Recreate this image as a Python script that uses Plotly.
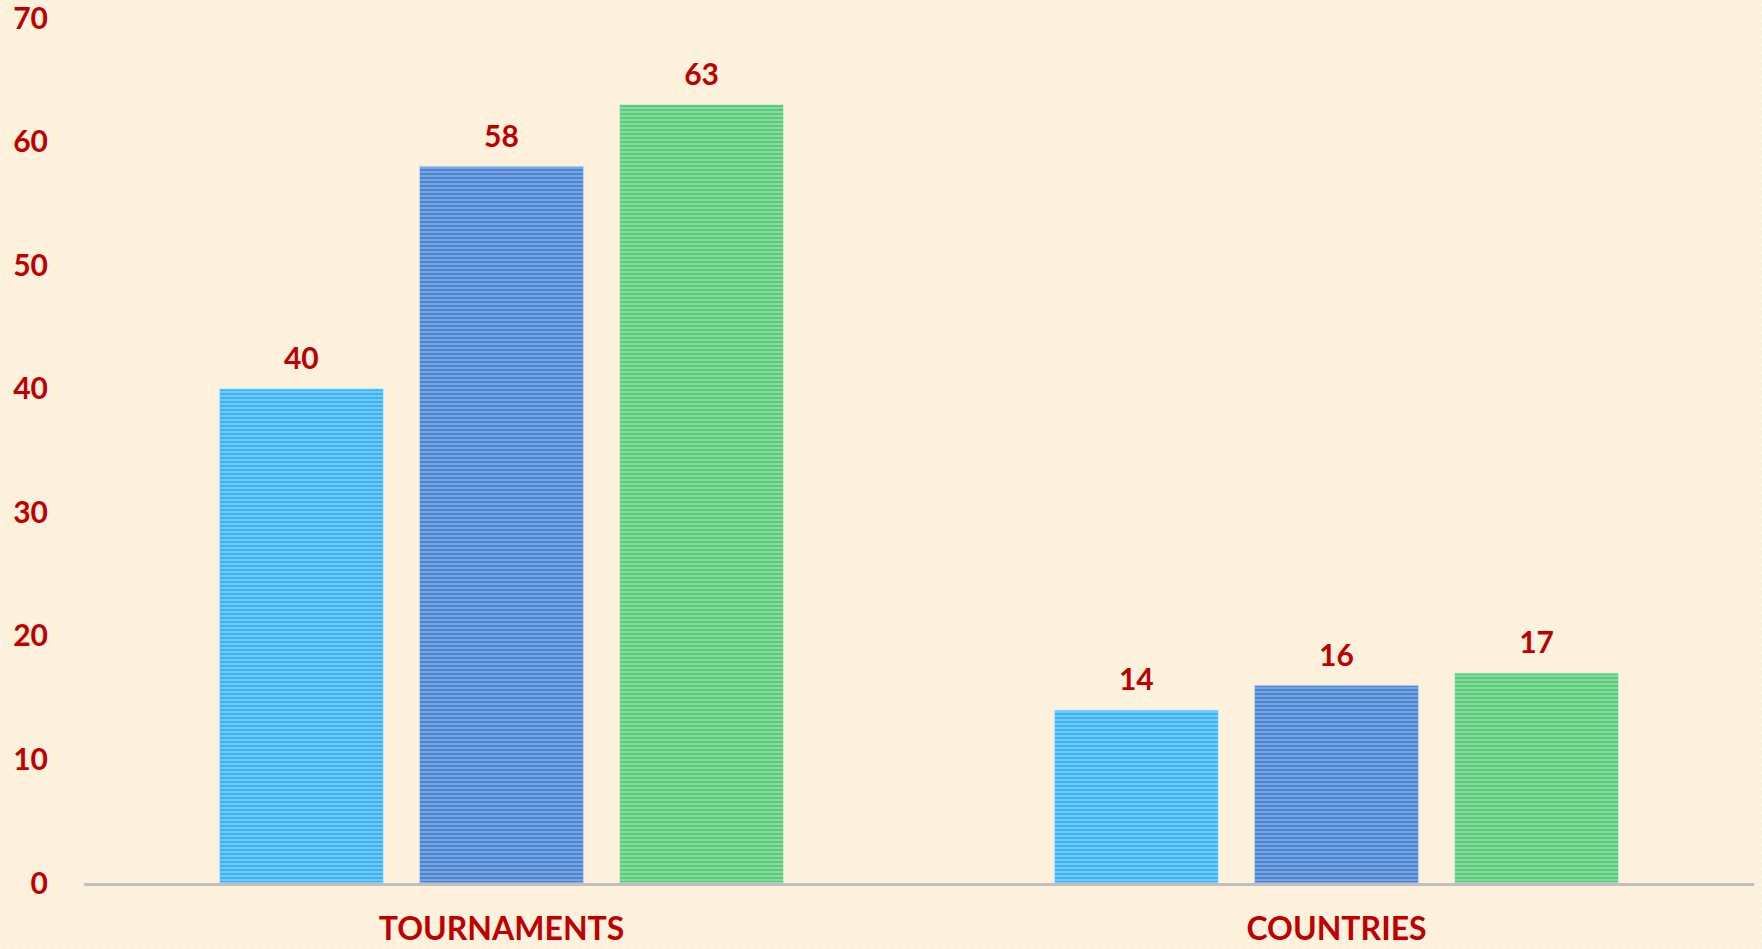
import plotly.graph_objects as go
import urllib.parse

categories = ["TOURNAMENTS", "COUNTRIES"]
series_names = ["Series 1", "Series 2", "Series 3"]
series_values = [
    [40, 14],
    [58, 16],
    [63, 17],
]
y_ticks = [0, 10, 20, 30, 40, 50, 60, 70]

bar_colors = ["#3db3f7", "#4a84d2", "#5acb78"]
stripe_colors = ["#c4ebff", "#c4d8f2", "#cdf2d8"]
text_red = "#c00000"
bg = "#fdf1dc"
font_family = "Lato, 'Open Sans', sans-serif"

W, H = 1762, 949
ML, MR, MT, MB = 84, 8, 18, 66

fig = go.Figure()
for i, (name, vals, c, s) in enumerate(zip(series_names, series_values, bar_colors, stripe_colors)):
    fig.add_trace(go.Bar(
        x=categories, y=vals, name=name,
        offsetgroup=str(i),
        marker=dict(
            color=c,
            line=dict(color=s, width=1),
            pattern=dict(shape="-", bgcolor=c, fgcolor=s, size=4, solidity=0.4, fillmode="overlay"),
        ),
        showlegend=False,
        hoverinfo="skip",
    ))
for i, (name, vals) in enumerate(zip(series_names, series_values)):
    fig.add_trace(go.Scatter(
        x=categories, y=vals, name=name,
        offsetgroup=str(i),
        mode="markers+text",
        marker=dict(size=18, opacity=0),
        text=[str(v) for v in vals],
        textposition="top center",
        textfont=dict(family=font_family, size=30, color=text_red, weight="bold"),
        cliponaxis=False,
        showlegend=False,
    ))

# decorative dotted background texture
svg = (
    f'<svg xmlns="http://www.w3.org/2000/svg" width="{W}" height="{H}" viewBox="0 0 {W} {H}">'
    '<defs><pattern id="d" x="0" y="5" width="16" height="8" patternUnits="userSpaceOnUse">'
    '<circle cx="0" cy="0" r="1.2" fill="#ffffff" fill-opacity="0.75"/>'
    '<circle cx="16" cy="0" r="1.2" fill="#ffffff" fill-opacity="0.75"/>'
    '<circle cx="0" cy="8" r="1.2" fill="#ffffff" fill-opacity="0.75"/>'
    '<circle cx="16" cy="8" r="1.2" fill="#ffffff" fill-opacity="0.75"/>'
    '</pattern></defs>'
    f'<rect width="{W}" height="{H}" fill="url(#d)"/></svg>'
)
svg_uri = "data:image/svg+xml;charset=utf-8," + urllib.parse.quote(svg)
pw, ph = W - ML - MR, H - MT - MB

fig.update_layout(
    width=W, height=H,
    paper_bgcolor=bg,
    plot_bgcolor="rgba(0,0,0,0)",
    margin=dict(l=ML, r=MR, t=MT, b=MB),
    barmode="group",
    bargap=0.281,
    bargroupgap=0.18,
    scattermode="group",
    scattergap=0.281,
    font=dict(family=font_family, color=text_red),
    images=[dict(
        source=svg_uri, xref="paper", yref="paper",
        x=-ML / pw, y=1 + MT / ph, sizex=W / pw, sizey=H / ph,
        xanchor="left", yanchor="top", sizing="stretch", layer="below",
    )],
)
fig.update_xaxes(
    showline=True, linecolor="#bfbfbf", linewidth=3,
    showgrid=False, zeroline=False,
    ticks="outside", ticklen=16, tickcolor="rgba(0,0,0,0)",
    tickfont=dict(family=font_family, size=32, color=text_red, weight="bold"),
    automargin=False,
)
fig.update_yaxes(
    range=[0, 70], tickvals=y_ticks, ticktext=[str(t) for t in y_ticks],
    showgrid=False, zeroline=False, showline=False,
    ticks="outside", ticklen=29, tickcolor="rgba(0,0,0,0)",
    tickfont=dict(family=font_family, size=30, color=text_red, weight="bold"),
    ticklabeloverflow="allow",
    automargin=False,
)

fig.write_html(
    "out.html",
    config={"displayModeBar": False},
    post_script="document.body.style.margin='0';document.body.style.background='#fdf1dc';",
)
